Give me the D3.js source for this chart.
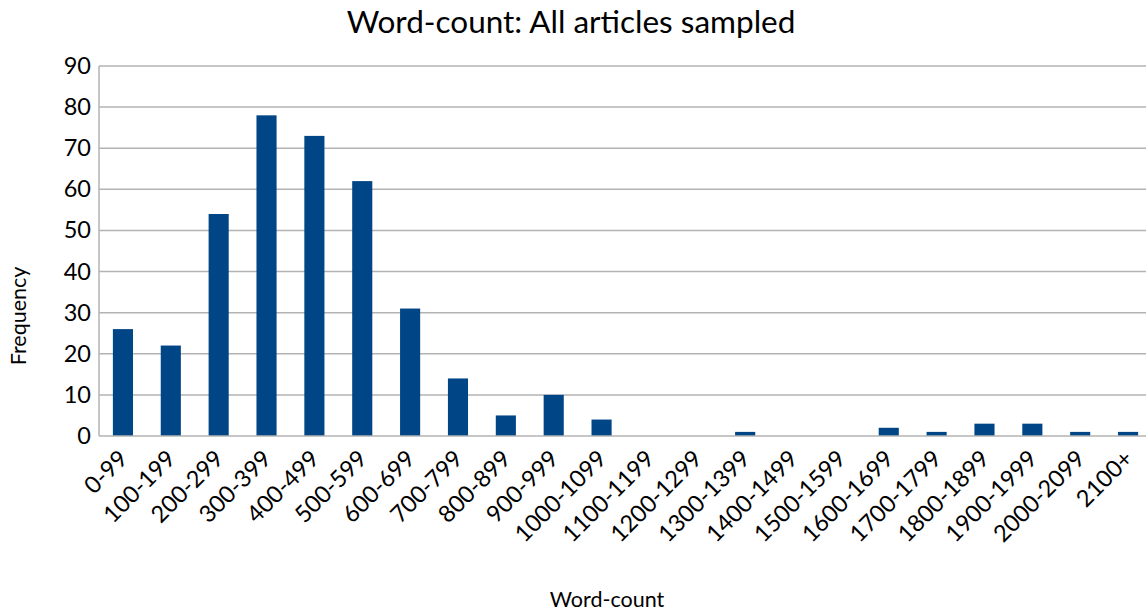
<!DOCTYPE html>
<html>
<head>
<meta charset="utf-8">
<script src="https://cdn.jsdelivr.net/npm/d3@7"></script>
<style>
  html, body { margin: 0; padding: 0; background: #fff; }
  svg { display: block; font-family: Lato, "Liberation Sans", sans-serif; }
</style>
</head>
<body>
<svg id="chart" width="1146" height="614"></svg>
<script>
// Word-count bins and article frequencies
const categories = ["0-99","100-199","200-299","300-399","400-499","500-599","600-699",
  "700-799","800-899","900-999","1000-1099","1100-1199","1200-1299","1300-1399",
  "1400-1499","1500-1599","1600-1699","1700-1799","1800-1899","1900-1999","2000-2099","2100+"];
const frequencies = [26, 22, 54, 78, 73, 62, 31, 14, 5, 10, 4, 0, 0, 1, 0, 0, 2, 1, 3, 3, 1, 1];
const yTicks = [0, 10, 20, 30, 40, 50, 60, 70, 80, 90];

const svg = d3.select("#chart");
const plotLeft = 99, plotRight = 1152, plotTop = 66, plotBottom = 436;

const x = d3.scaleBand().domain(categories).range([plotLeft, plotRight]).paddingInner(0.58).paddingOuter(0.29);
const y = d3.scaleLinear().domain([0, 90]).range([plotBottom, plotTop]);

// horizontal gridlines
svg.append("g").selectAll("line").data(yTicks.filter(d => d > 0)).join("line")
  .attr("x1", plotLeft).attr("x2", 1146)
  .attr("y1", d => y(d)).attr("y2", d => y(d))
  .attr("stroke", "#b3b3b3").attr("stroke-width", 1.5);

// bars
svg.append("g").selectAll("rect").data(frequencies).join("rect")
  .attr("x", (d, i) => x(categories[i]))
  .attr("width", x.bandwidth())
  .attr("y", d => y(d))
  .attr("height", d => plotBottom - y(d))
  .attr("fill", "#004586");

// axis lines
svg.append("line").attr("x1", plotLeft).attr("x2", plotLeft).attr("y1", plotTop).attr("y2", plotBottom)
  .attr("stroke", "#b3b3b3").attr("stroke-width", 1.5);
svg.append("line").attr("x1", plotLeft).attr("x2", 1146).attr("y1", plotBottom).attr("y2", plotBottom)
  .attr("stroke", "#b3b3b3").attr("stroke-width", 1.5);

// y axis labels
const yAxis = d3.axisLeft(y).tickValues(yTicks).tickSize(0).tickPadding(8);
const gy = svg.append("g").attr("transform", `translate(${plotLeft},0)`).call(yAxis);
gy.select(".domain").remove();
gy.selectAll("text").attr("font-size", 23.5).attr("fill", "#000").attr("font-family", "Lato, sans-serif");

// x axis labels, rotated
const xAxis = d3.axisBottom(x).tickSize(0).tickPadding(0);
const gx = svg.append("g").attr("transform", `translate(0,${plotBottom})`).call(xAxis);
gx.select(".domain").remove();
gx.selectAll("text")
  .attr("font-size", 23.5).attr("fill", "#000").attr("font-family", "Lato, sans-serif")
  .attr("text-anchor", "end")
  .attr("dy", null).attr("y", 0)
  .attr("transform", "translate(2,20) rotate(-45)")
  .attr("dominant-baseline", "middle");

// titles
svg.append("text").attr("x", 571).attr("y", 33).attr("text-anchor", "middle")
  .attr("font-size", 31.5).attr("fill", "#000").text("Word-count: All articles sampled");
svg.append("text").attr("x", 607).attr("y", 607).attr("text-anchor", "middle")
  .attr("font-size", 21.5).attr("fill", "#000").text("Word-count");
svg.append("text").attr("transform", "translate(26,316) rotate(-90)").attr("text-anchor", "middle")
  .attr("font-size", 21.5).attr("fill", "#000").text("Frequency");
</script>
</body>
</html>
